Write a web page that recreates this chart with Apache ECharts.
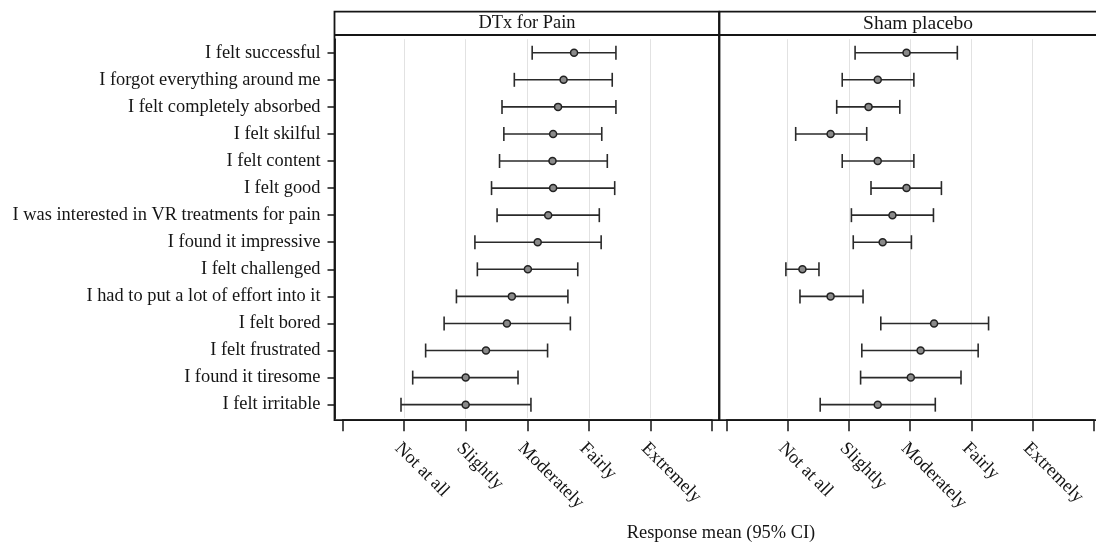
<!DOCTYPE html>
<html>
<head>
<meta charset="utf-8">
<script src="https://cdn.jsdelivr.net/npm/echarts@6/dist/echarts.min.js"></script>
<style>html,body{margin:0;padding:0;background:#fff;}#chart{width:1096px;height:544px;}</style>
</head>
<body>
<div id="chart"></div>
<script>
// ---- data (top to bottom) ----
var categories = [
  'I felt successful',
  'I forgot everything around me',
  'I felt completely absorbed',
  'I felt skilful',
  'I felt content',
  'I felt good',
  'I was interested in VR treatments for pain',
  'I found it impressive',
  'I felt challenged',
  'I had to put a lot of effort into it',
  'I felt bored',
  'I felt frustrated',
  'I found it tiresome',
  'I felt irritable'
];
var tickLabels = ['', 'Not at all', 'Slightly', 'Moderately', 'Fairly', 'Extremely', ''];
var panelTitles = ['DTx for Pain', 'Sham placebo'];
var axisTitle = 'Response mean (95% CI)';

var dtxMean = [3.76, 3.59, 3.50, 3.42, 3.41, 3.42, 3.34, 3.17, 3.01, 2.75, 2.67, 2.33, 2.00, 2.00];
var dtxLow  = [3.08, 2.79, 2.59, 2.62, 2.55, 2.42, 2.51, 2.15, 2.19, 1.85, 1.65, 1.35, 1.14, 0.95];
var dtxHigh = [4.44, 4.38, 4.44, 4.21, 4.30, 4.42, 4.17, 4.20, 3.82, 3.66, 3.70, 3.33, 2.85, 3.06];

var shamMean = [2.94, 2.47, 2.32, 1.70, 2.47, 2.94, 2.71, 2.55, 1.24, 1.70, 3.39, 3.17, 3.01, 2.47];
var shamLow  = [2.10, 1.89, 1.80, 1.13, 1.89, 2.36, 2.04, 2.07, 0.97, 1.20, 2.52, 2.21, 2.19, 1.53];
var shamHigh = [3.77, 3.06, 2.83, 2.29, 3.06, 3.51, 3.38, 3.02, 1.51, 2.23, 4.28, 4.11, 3.83, 3.41];

var FONT = '"Liberation Serif", "Times New Roman", serif';
var INK = '#151515';

function errData(lo, hi) { return lo.map(function (v, i) { return [v, hi[i], i]; }); }
function ptData(m) { return m.map(function (v, i) { return [v, i]; }); }

function renderErr(params, api) {
  var y = api.value(2);
  var p1 = api.coord([api.value(0), y]);
  var p2 = api.coord([api.value(1), y]);
  var h = 7;
  var st = { stroke: '#2a2a2a', lineWidth: 1.6, fill: null };
  return {
    type: 'group',
    children: [
      { type: 'line', shape: { x1: p1[0], y1: p1[1], x2: p2[0], y2: p2[1] }, style: st },
      { type: 'line', shape: { x1: p1[0], y1: p1[1] - h, x2: p1[0], y2: p1[1] + h }, style: st },
      { type: 'line', shape: { x1: p2[0], y1: p2[1] - h, x2: p2[0], y2: p2[1] + h }, style: st }
    ]
  };
}

function xAxisCfg(gi) {
  return {
    type: 'value', gridIndex: gi, min: 0, max: 6, interval: 1, offset: 2,
    axisLine: { show: true, onZero: false, lineStyle: { color: INK, width: 1.5 } },
    axisTick: { show: true, length: 11, lineStyle: { color: INK, width: 1.5 } },
    axisLabel: {
      rotate: -45, margin: 19, fontSize: 18.4, fontFamily: FONT, color: INK,
      align: 'left', verticalAlign: 'top',
      formatter: function (v) { return tickLabels[Math.round(v)] || ''; }
    },
    splitLine: { show: true, showMinLine: false, showMaxLine: false, lineStyle: { color: '#e2e2e2', width: 1 } }
  };
}

var chart = echarts.init(document.getElementById('chart'), null, { renderer: 'canvas' });
chart.setOption({
  backgroundColor: '#ffffff',
  animation: false,
  grid: [
    { left: 342.5, top: 39.2, width: 369.5, bottom: 125.8 },
    { left: 726.5, top: 39.2, width: 369, bottom: 125.8 }
  ],
  xAxis: [xAxisCfg(0), xAxisCfg(1)],
  yAxis: [
    {
      type: 'category', gridIndex: 0, data: categories, inverse: true, offset: 8,
      axisLine: { show: true, onZero: false, lineStyle: { color: INK, width: 1.8 } },
      axisTick: { show: true, inside: false, length: 7, alignWithLabel: true, lineStyle: { color: INK, width: 1.5 } },
      axisLabel: { fontSize: 18.4, fontFamily: FONT, color: INK, margin: 14 },
      splitLine: { show: false }
    },
    {
      type: 'category', gridIndex: 1, data: categories, inverse: true, show: false
    }
  ],
  graphic: [
    { type: 'rect', shape: { x: 334.5, y: 11.7, width: 384.5, height: 408.5 }, style: { fill: null, stroke: INK, lineWidth: 1.8 }, z: 10 },
    { type: 'rect', shape: { x: 719.5, y: 11.7, width: 400, height: 408.5 }, style: { fill: null, stroke: INK, lineWidth: 1.8 }, z: 10 },
    { type: 'line', shape: { x1: 334.5, y1: 35, x2: 1100, y2: 35 }, style: { stroke: INK, lineWidth: 1.8 }, z: 10 },
    { type: 'text', x: 527, y: 23.5, style: { text: panelTitles[0], font: '18.4px ' + FONT, fill: INK, textAlign: 'center', textVerticalAlign: 'middle' }, z: 10 },
    { type: 'text', x: 918, y: 23.5, style: { text: panelTitles[1], font: '19.5px ' + FONT, fill: INK, textAlign: 'center', textVerticalAlign: 'middle' }, z: 10 },
    { type: 'text', x: 721, y: 533, style: { text: axisTitle, font: '18.4px ' + FONT, fill: INK, textAlign: 'center', textVerticalAlign: 'middle' }, z: 10 }
  ],
  series: [
    { type: 'custom', xAxisIndex: 0, yAxisIndex: 0, renderItem: renderErr, data: errData(dtxLow, dtxHigh), encode: { x: [0, 1], y: 2 }, z: 2 },
    { type: 'scatter', xAxisIndex: 0, yAxisIndex: 0, data: ptData(dtxMean), symbol: 'circle', symbolSize: 7,
      itemStyle: { color: '#8a8a8a', borderColor: '#222', borderWidth: 1.5, opacity: 1 }, z: 3 },
    { type: 'custom', xAxisIndex: 1, yAxisIndex: 1, renderItem: renderErr, data: errData(shamLow, shamHigh), encode: { x: [0, 1], y: 2 }, z: 2 },
    { type: 'scatter', xAxisIndex: 1, yAxisIndex: 1, data: ptData(shamMean), symbol: 'circle', symbolSize: 7,
      itemStyle: { color: '#8a8a8a', borderColor: '#222', borderWidth: 1.5, opacity: 1 }, z: 3 }
  ]
});
</script>
</body>
</html>
